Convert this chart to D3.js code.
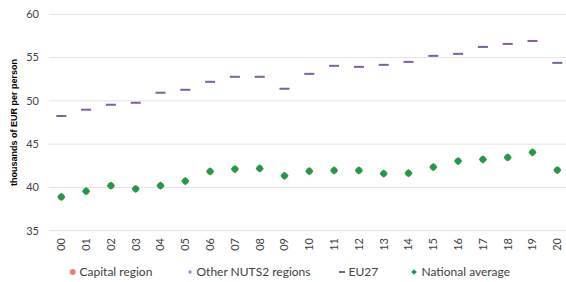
<!DOCTYPE html>
<html>
<head>
<meta charset="utf-8">
<script src="https://cdn.jsdelivr.net/npm/d3@7"></script>
<style>
  body { margin: 0; background: #fff; }
  text { font-family: Lato, "Open Sans", sans-serif; }
</style>
</head>
<body>
<div id="chart"></div>
<script>
const years = ['00', '01', '02', '03', '04', '05', '06', '07', '08', '09', '10',
  '11', '12', '13', '14', '15', '16', '17', '18', '19', '20'];
const eu27 = [48.25, 48.98, 49.55, 49.78, 50.94, 51.28, 52.2, 52.78, 52.78, 51.4, 53.12,
  54.05, 53.93, 54.16, 54.5, 55.2, 55.43, 56.23, 56.58, 56.92, 54.39];
const nationalAvg = [38.9, 39.57, 40.2, 39.84, 40.2, 40.73, 41.85, 42.12, 42.2, 41.34, 41.88,
  41.96, 41.96, 41.6, 41.65, 42.35, 43.04, 43.24, 43.47, 44.05, 42.0];
// capital region coincides with the national average (hidden underneath)
const capitalRegion = nationalAvg.slice();
const yTicks = [35, 40, 45, 50, 55, 60];

const width = 566;
const height = 282;
const margin = { top: 14.3, right: -3.7, bottom: 51.3, left: 48.9 };

const svg = d3.select('#chart')
  .append('svg')
  .attr('width', width)
  .attr('height', height);

const x = d3.scaleBand()
  .domain(years)
  .range([margin.left, width - margin.right]);

const y = d3.scaleLinear()
  .domain([35, 60])
  .range([height - margin.bottom, margin.top]);

// gridlines
svg.append('g')
  .selectAll('line')
  .data(yTicks)
  .join('line')
  .attr('x1', margin.left)
  .attr('x2', width)
  .attr('y1', d => y(d))
  .attr('y2', d => y(d))
  .attr('stroke', '#e3e3e3')
  .attr('stroke-width', 1);

// y tick labels
svg.append('g')
  .selectAll('text')
  .data(yTicks)
  .join('text')
  .attr('x', 39)
  .attr('y', d => y(d))
  .attr('dy', '0.35em')
  .attr('text-anchor', 'end')
  .style('font-size', '11px')
  .style('fill', '#404040')
  .text(d => d);

// x tick labels, rotated
svg.append('g')
  .selectAll('text')
  .data(years)
  .join('text')
  .attr('transform', d => `translate(${x(d) + x.bandwidth() / 2}, 238) rotate(-90)`)
  .attr('dy', '0.35em')
  .attr('text-anchor', 'end')
  .style('font-size', '11px')
  .style('fill', '#404040')
  .text(d => d);

// axis title
svg.append('text')
  .attr('transform', `translate(14, ${y(47.5)}) rotate(-90)`)
  .attr('text-anchor', 'middle')
  .attr('dy', '0.35em')
  .style('font-family', '"Liberation Sans", Arial, sans-serif')
  .style('font-size', '9px')
  .style('font-weight', 'bold')
  .style('fill', '#000')
  .text('thousands of EUR per  person');

const cx = (d, i) => x(years[i]) + x.bandwidth() / 2;

// EU27 dashes
svg.append('g')
  .selectAll('rect')
  .data(eu27)
  .join('rect')
  .attr('x', (d, i) => cx(d, i) - 5)
  .attr('y', d => y(d) - 1)
  .attr('width', 10)
  .attr('height', 2)
  .attr('fill', '#7f5f9f');

// capital region circles
svg.append('g')
  .selectAll('circle')
  .data(capitalRegion)
  .join('circle')
  .attr('cx', cx)
  .attr('cy', d => y(d))
  .attr('r', 3.4)
  .attr('fill', '#f08070');

// national average diamonds
svg.append('g')
  .selectAll('path')
  .data(nationalAvg)
  .join('path')
  .attr('transform', (d, i) => `translate(${cx(d, i)}, ${y(d)}) rotate(45)`)
  .attr('d', d3.symbol().type(d3.symbolSquare).size(34))
  .attr('fill', '#14a04a');

// legend
const legend = svg.append('g').attr('transform', 'translate(0, 272)');
legend.append('circle').attr('cx', 72.7).attr('cy', 0).attr('r', 3).attr('fill', '#f47c7c');
legend.append('text').attr('x', 79.5).attr('dy', '0.35em').text('Capital region');
legend.append('circle').attr('cx', 190).attr('cy', 0).attr('r', 1.7).attr('fill', '#8a8af0');
legend.append('text').attr('x', 196.5).attr('dy', '0.35em').text('Other NUTS2 regions');
legend.append('rect').attr('x', 339).attr('y', -1).attr('width', 6).attr('height', 2).attr('fill', '#7f5f9f');
legend.append('text').attr('x', 348.5).attr('dy', '0.35em').text('EU27');
legend.append('path').attr('transform', 'translate(414, 0) rotate(45)')
  .attr('d', d3.symbol().type(d3.symbolSquare).size(16)).attr('fill', '#14a04a');
legend.append('text').attr('x', 421.5).attr('dy', '0.35em').text('National average');
legend.selectAll('text').style('font-size', '12px').style('fill', '#404040');
</script>
</body>
</html>
